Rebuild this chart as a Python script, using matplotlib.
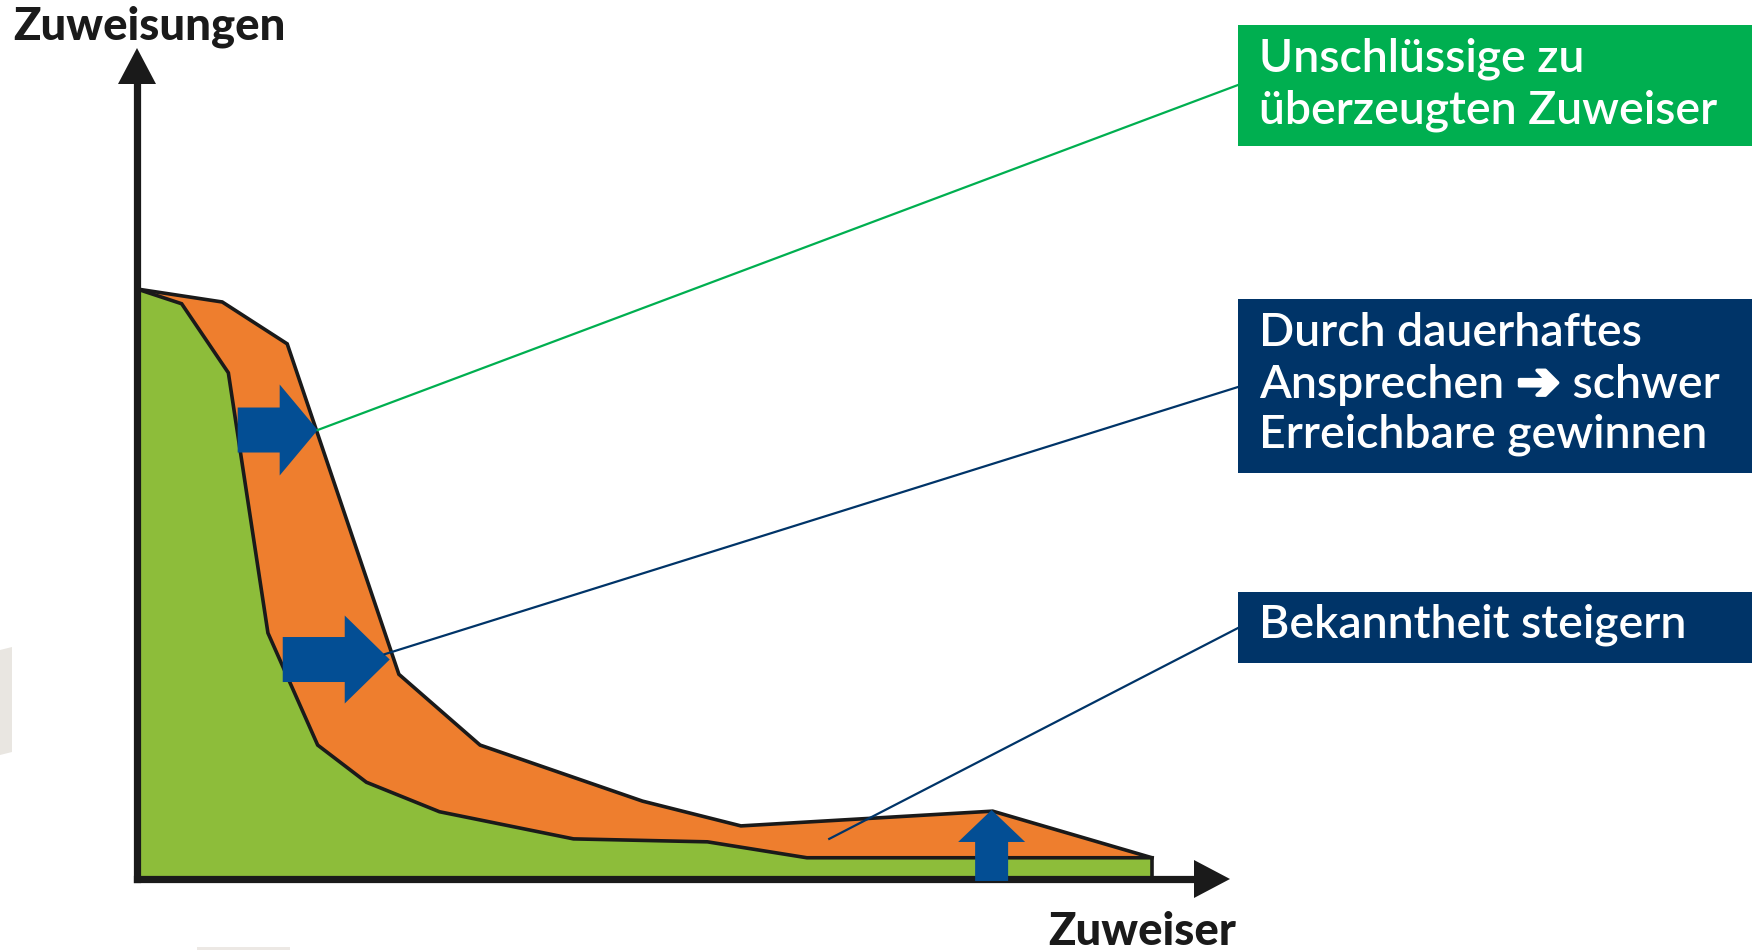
import matplotlib
matplotlib.use("Agg")
import matplotlib.pyplot as plt
import matplotlib.patches as mpatches
import matplotlib.patheffects as pe
import numpy as np

# ---------------- data (schematic values, 0..100 scale) ----------------
zuweiser_orange = [0, 8.4, 14.8, 25.8, 33.8, 49.8, 59.5, 84.3, 100]
zuweisungen_orange = [100, 97.8, 90.7, 34.7, 22.7, 13.2, 9.0, 11.5, 3.6]
zuweiser_green = [0, 4.4, 9.0, 12.9, 17.8, 22.6, 29.8, 43.0, 56.2, 66.0, 100]
zuweisungen_green = [100, 97.5, 85.8, 41.7, 22.7, 16.4, 11.4, 6.8, 6.3, 3.6, 3.6]

# arrows (tips on the curves) and leader-line anchors
arrow_tip_x = [17.8, 24.9, 84.2]
arrow_tip_y = [76.1, 37.2, 11.7]
arrow_dirs = ["right", "right", "up"]
leader_start_x = [17.8, 24.4, 68.2]
leader_start_y = [76.1, 38.1, 6.8]

x_label = "Zuweiser"
y_label = "Zuweisungen"
box_lines = [
    ["Unschlüssige zu", "überzeugten Zuweiser"],
    ["Durch dauerhaftes", "Ansprechen \u2794 schwer", "Erreichbare gewinnen"],
    ["Bekanntheit steigern"],
]

# ---------------- style ----------------
C_GREEN_AREA = "#8DBD3A"
C_ORANGE = "#EE7E2E"
C_BLUE = "#034E94"
C_BOX_GREEN = "#00AF50"
C_BOX_NAVY = "#003468"
C_BLACK = "#1A1A1A"
box_colors = [C_BOX_GREEN, C_BOX_NAVY, C_BOX_NAVY]
line_colors = [C_BOX_GREEN, C_BOX_NAVY, C_BOX_NAVY]

FW, FH = 1752, 950
fig = plt.figure(figsize=(FW / 100, FH / 100), dpi=100)
fig.patch.set_facecolor("white")

# main chart axes: data (0,0) at pixel (137,879), data (100,100) at pixel (1152,289)
X0, Y0, X1, Y1 = 137, 879, 1152, 289
ax = fig.add_axes([X0 / FW, (FH - Y0) / FH, (X1 - X0) / FW, (Y0 - Y1) / FH])
ax.set_xlim(0, 100)
ax.set_ylim(0, 100)
ax.axis("off")

# overlay axes in pixel coordinates (y down)
ov = fig.add_axes([0, 0, 1, 1])
ov.set_xlim(0, FW)
ov.set_ylim(FH, 0)
ov.axis("off")
ov.set_zorder(2)


def to_px(x, y):
    dx, dy = ax.transData.transform((x, y))
    return ov.transData.inverted().transform((dx, dy))


# ---------------- areas ----------------
xo = np.array(zuweiser_orange)
yo = np.array(zuweisungen_orange)
xg = np.array(zuweiser_green)
yg = np.array(zuweisungen_green)

ax.fill(np.r_[xo, xo[-1], 0], np.r_[yo, 0, 0], color=C_ORANGE, lw=0, zorder=1)
ax.fill(np.r_[xg, xg[-1], 0], np.r_[yg, 0, 0], color=C_GREEN_AREA, lw=0, zorder=2)
ax.plot(xo, yo, color=C_BLACK, lw=2.6, zorder=3, solid_joinstyle="miter", clip_on=False)
ax.plot(np.r_[xg, xg[-1]], np.r_[yg, 0], color=C_BLACK, lw=2.6, zorder=3,
        solid_joinstyle="miter", clip_on=False)

# ---------------- axes with arrow heads ----------------
ox, oy = to_px(0, 0)
y_top = 48
x_right = 1230
head_len, head_half = 36, 19
ov.plot([ox, ox], [oy, y_top + head_len], color=C_BLACK, lw=5.2,
        solid_capstyle="projecting", zorder=3)
ov.plot([ox, x_right - head_len], [oy, oy], color=C_BLACK, lw=5.2,
        solid_capstyle="projecting", zorder=3)
ov.add_patch(mpatches.Polygon([(ox, y_top), (ox - head_half, y_top + head_len),
                               (ox + head_half, y_top + head_len)],
                              closed=True, color=C_BLACK, lw=0, zorder=3))
ov.add_patch(mpatches.Polygon([(x_right, oy), (x_right - head_len, oy - head_half),
                               (x_right - head_len, oy + head_half)],
                              closed=True, color=C_BLACK, lw=0, zorder=3))

# ---------------- blue arrows ----------------
arrow_shapes = [  # total length, shaft width, head width, head length (px)
    (80, 45, 91, 38),
    (107, 45, 88, 45),
    (71, 33, 67, 32),
]
for tx, ty, d, (L, w, hw, hl) in zip(arrow_tip_x, arrow_tip_y, arrow_dirs, arrow_shapes):
    px, py = to_px(tx, ty)
    if d == "right":
        sx, sy, dx, dy = px - L, py, L, 0
    else:
        sx, sy, dx, dy = px, py + L, 0, -L
    ov.add_patch(mpatches.FancyArrow(sx, sy, dx, dy, width=w, head_width=hw,
                                     head_length=hl, length_includes_head=True,
                                     color=C_BLUE, lw=0, zorder=4))

# ---------------- boxes, texts and leader lines ----------------
box_left, box_right = 1238, 1752
box_tops = [25, 299, 592]
box_bottoms = [146, 473, 663]
box_baselines = [[72, 123], [346, 398, 448], [637]]
leader_end_y = [85, 387, 628]
text_x = 1259

text_family = ["Lato", "DejaVu Sans"]
TW = "semibold"
renderer = fig.canvas.get_renderer()


def text_width(s, size, family, weight):
    t = fig.text(0, 0, s, fontsize=size, family=family, weight=weight)
    w = t.get_window_extent(renderer).width
    t.remove()
    return w


def fit_size(s, target, family, weight):
    return 20 * target / text_width(s, 20, family, weight)


box_fs = fit_size("überzeugten Zuweiser", 459, text_family, TW)


def draw_line_text(line, x, bl):
    if "\u2794" in line:
        # draw the heavy arrow thickened, keep words in the text font
        left, right = line.split("\u2794")
        ov.text(x, bl, left, color="white", fontsize=box_fs, family=text_family,
                weight=TW, va="baseline", ha="left", zorder=6)
        wl = text_width(left, box_fs, text_family, TW)
        afs = box_fs * 1.12
        ov.text(x + wl + 1, bl + 1, "\u2794", color="white", fontsize=afs,
                family=["DejaVu Sans"], weight="bold", va="baseline", ha="left", zorder=6,
                path_effects=[pe.withStroke(linewidth=2.6, foreground="white")])
        wa = text_width("\u2794", afs, ["DejaVu Sans"], "bold")
        ov.text(x + wl + wa + 2, bl, right, color="white", fontsize=box_fs,
                family=text_family, weight=TW, va="baseline", ha="left", zorder=6)
    else:
        ov.text(x, bl, line, color="white", fontsize=box_fs, family=text_family,
                weight=TW, va="baseline", ha="left", zorder=6)


for i in range(3):
    ov.add_patch(mpatches.Rectangle((box_left, box_tops[i]), box_right - box_left,
                                    box_bottoms[i] - box_tops[i],
                                    color=box_colors[i], lw=0, zorder=5))
    for line, bl in zip(box_lines[i], box_baselines[i]):
        draw_line_text(line, text_x, bl)
    sx, sy = to_px(leader_start_x[i], leader_start_y[i])
    ov.plot([sx, box_left], [sy, leader_end_y[i]], color=line_colors[i], lw=1.6,
            zorder=4.5)

# ---------------- axis labels ----------------
lab_family = ["Lato", "DejaVu Sans"]
ylab_fs = fit_size(y_label, 273, lab_family, "black")
ov.text(13, 39, y_label, fontsize=ylab_fs, family=lab_family, weight="black",
        color=C_BLACK, va="baseline", ha="left")
ov.text(1048, 945, x_label, fontsize=ylab_fs, family=lab_family, weight="black",
        color=C_BLACK, va="baseline", ha="left")

# faint cropping artifacts
ov.add_patch(mpatches.Polygon([(0, 650), (12, 647), (12, 752), (0, 755)], closed=True,
                              color="#E9E6E1", lw=0, zorder=1))
ov.add_patch(mpatches.Rectangle((197, 947), 93, 3, color="#ECE8E4", lw=0, zorder=1))

fig.savefig("out.png", dpi=100)
